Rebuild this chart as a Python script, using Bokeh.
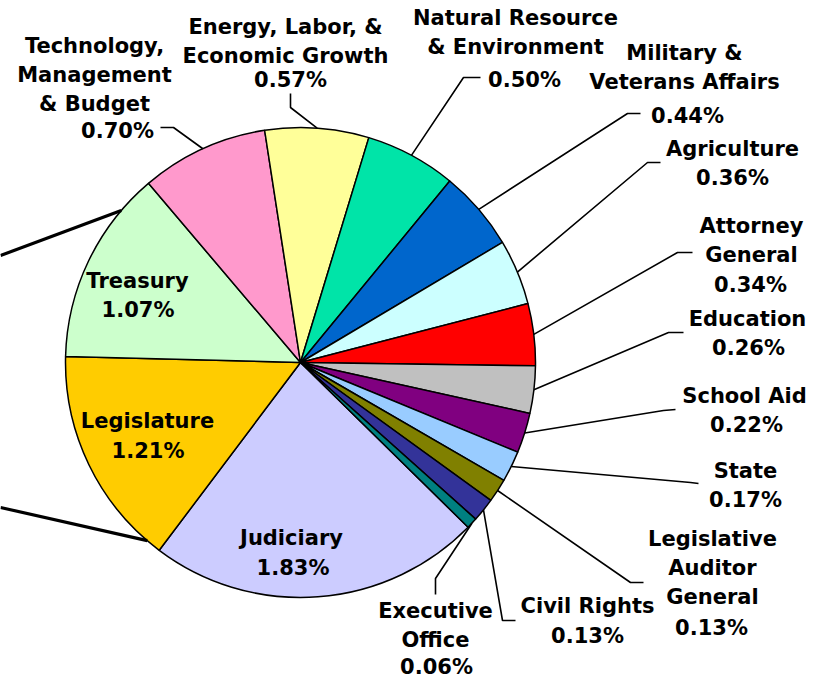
import math
import numpy as np
from bokeh.plotting import figure
from bokeh.models import Range1d, ColumnDataSource
from bokeh.core.properties import value
from bokeh.embed import file_html
from bokeh.resources import INLINE

# ---------------- data ----------------
departments = [
    "Judiciary", "Legislature", "Treasury",
    "Technology,\nManagement\n& Budget",
    "Energy, Labor, &\nEconomic Growth",
    "Natural Resource\n& Environment",
    "Military &\nVeterans Affairs",
    "Agriculture", "Attorney\nGeneral", "Education", "School Aid", "State",
    "Legislative\nAuditor\nGeneral", "Civil Rights", "Executive\nOffice",
]
shares = [1.83, 1.21, 1.07, 0.70, 0.57, 0.50, 0.44, 0.36, 0.34, 0.26,
          0.22, 0.17, 0.13, 0.13, 0.06]
pct_labels = [f"{v:.2f}%" for v in shares]
slice_colors = ["#CCCCFF", "#FFCC00", "#CCFFCC", "#FF99CC", "#FFFF99",
                "#00E4A8", "#0066CC", "#CCFFFF", "#FF0000", "#C0C0C0",
                "#800080", "#99CCFF", "#808000", "#333399", "#008080"]

# ---------------- layout (image pixel coordinates) ----------------
W, H = 806, 678
IMG_H = 694
CX, CY, R = 300, 362, 235
START_DEG = -44.5
FONT_PX = 21
LINE_PITCH = 29.0

# (centre x, middle y of first line) for the department name block
name_pos = [(291, 537.5), (147, 420), (137, 280), (94, 45), (285, 26),
            (515, 17.5), (684, 52), (732, 148), (751, 225), (747, 318),
            (744, 395), (745, 470), (712, 538), (587, 605), (435, 610)]
# (centre x, middle y) for the percentage line
pct_pos = [(292.5, 567), (147.5, 450), (137.5, 309.5), (117, 130), (290, 79),
           (524, 79), (687, 115), (732, 177), (750, 284), (748, 347),
           (746, 424), (745, 499), (711, 627), (587, 635), (436, 666)]
# leader line: label end point and elbow point (None = label inside slice)
leader_pts = [None, None, None,
              [(160, 127), (173, 127)],
              [(290, 93), (290, 107)],
              [(480, 77), (463, 77)],
              [(640, 113), (627, 113)],
              [(660, 162), (647, 162)],
              [(692, 252), (677, 252)],
              [(683, 332), (668, 332)],
              [(675, 409), (663, 410)],
              [(698, 483), (690, 482)],
              [(643, 582), (630, 582)],
              [(515, 620), (502, 620)],
              [(435, 594), (435, 578)]]
# pie-of-pie connector lines: far end (image coords) and angle on the pie
connectors = [((0, 255), 139.7), ((0, 507), 229.3)]


def fy(y):
    return IMG_H - y


p = figure(width=W, height=H, x_range=Range1d(0, W),
           y_range=Range1d(IMG_H - H, IMG_H),
           output_backend="svg", toolbar_location=None,
           x_axis_location=None, y_axis_location=None, min_border=0)
p.grid.visible = False
p.outline_line_color = None
p.background_fill_color = "white"
p.border_fill_color = "white"

# ---------------- wedges ----------------
total = sum(shares)
k = 2 * math.pi / total
cum = np.concatenate([[0.0], np.cumsum(shares)])
theta0 = math.radians(START_DEG)
start = theta0 - cum[1:] * k
end = theta0 - cum[:-1] * k
mid = (start + end) / 2

src = ColumnDataSource(dict(start=start, end=end, color=slice_colors,
                            name=departments, share=shares))
p.wedge(x=CX, y=fy(CY), radius=R, start_angle="start", end_angle="end",
        fill_color="color", line_color="black", line_width=1.5,
        direction="anticlock", source=src)

# ---------------- connector lines ----------------
cxs, cys = [], []
for (fx, fyy), ang in connectors:
    a = math.radians(ang)
    cxs.append([fx, CX + R * math.cos(a)])
    cys.append([fy(fyy), fy(CY) + R * math.sin(a)])
p.multi_line(cxs, cys, line_color="black", line_width=3.2)

# ---------------- leader lines ----------------
lxs, lys = [], []
for i, pts in enumerate(leader_pts):
    if pts is None:
        continue
    ex = CX + R * math.cos(mid[i])
    ey = fy(CY) + R * math.sin(mid[i])
    lxs.append([pts[0][0], pts[1][0], ex])
    lys.append([fy(pts[0][1]), fy(pts[1][1]), ey])
p.multi_line(lxs, lys, line_color="black", line_width=1.6)

# ---------------- labels ----------------
tx, ty, tt = [], [], []
for i, name in enumerate(departments):
    nx, ny = name_pos[i]
    for j, line in enumerate(name.split("\n")):
        tx.append(nx)
        ty.append(fy(ny + j * LINE_PITCH))
        tt.append(line)
    px, py = pct_pos[i]
    tx.append(px)
    ty.append(fy(py))
    tt.append(pct_labels[i])

p.text(x=tx, y=ty, text=tt, text_align="center", text_baseline="middle",
       text_font=value("DejaVu Sans"), text_font_style="bold",
       text_font_size=f"{FONT_PX}px", text_color="black")

open("out.html", "w").write(file_html(p, INLINE))
